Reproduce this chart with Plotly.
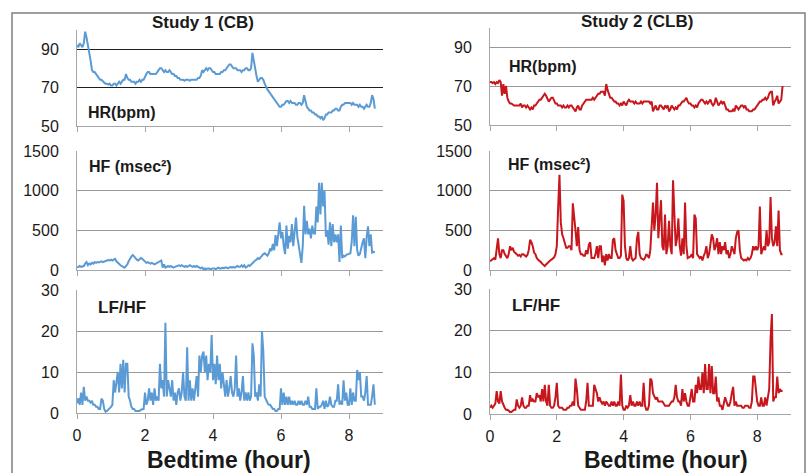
import plotly.graph_objects as go

W, H = 811, 473
STEP = 0.04  # hours between successive samples

hour_ticks = [0, 2, 4, 6, 8]
hr_ticks = [50, 70, 90]
hf_ticks = [0, 500, 1000, 1500]
lfhf_ticks = [0, 10, 20, 30]

# ---------------- Study 1 (CB) ----------------
study1_hr = [
    92, 91, 93, 92, 91, 93, 99, 96, 92, 90, 84, 79, 78, 78, 77, 76, 75, 74, 74, 73, 72.5, 72, 72, 71.5, 72,
    71, 71, 72, 72, 71, 72, 73, 72, 73, 74, 74, 77, 75, 74, 74, 73, 73, 73, 72, 73, 73, 74, 73, 74, 74,
    76, 77, 78, 78, 77, 77, 77, 77, 77, 78, 79, 80, 80, 79, 78, 79, 78, 78, 79, 78, 77, 77, 76, 76, 75,
    75, 74, 74, 74, 73.5, 74, 74, 74, 73.5, 74, 74, 74, 74, 74, 75, 75, 76, 79, 78, 79, 80, 79, 80, 80, 79,
    78, 78, 77, 77, 77, 77, 78, 78, 79, 79, 80, 81, 82, 82, 81, 80, 80, 80, 79, 79, 79, 78, 79, 79, 80,
    80, 79, 79, 80, 88, 84, 78, 76, 73, 74, 75, 75, 74, 72, 70, 69, 68, 67, 66, 65, 64, 63, 62, 61, 60,
    60, 61, 61, 62, 63, 63, 62, 63, 62, 62, 62, 61, 61, 62, 62, 61, 62, 66, 62, 60, 59, 58, 58, 57, 57,
    56, 56, 55, 55, 54, 55, 53, 54, 56, 56, 57, 57, 57, 58, 58, 59, 59, 58, 58, 60, 61, 61, 62, 62, 62,
    62, 62, 61, 62, 61, 61, 61, 60, 61, 60, 60, 59, 60, 61, 60, 60, 62, 66, 64, 59,
]
study1_hf = [
    30, 40, 50, 40, 45, 50, 80, 100, 60, 80, 70, 90, 80, 100, 90, 100, 95, 100, 110, 100, 110, 115, 120, 125, 120,
    130, 120, 130, 140, 110, 90, 80, 60, 50, 40, 30, 50, 70, 110, 150, 170, 190, 170, 140, 130, 120, 130, 150, 140, 120,
    100, 90, 100, 90, 80, 90, 80, 70, 80, 90, 100, 110, 120, 30, 70, 30, 40, 50, 40, 50, 40, 30, 40, 50, 60,
    60, 50, 60, 50, 40, 50, 40, 50, 60, 50, 40, 50, 40, 50, 40, 30, 20, 30, 10, 20, 10, 20, 20, 10, 20,
    20, 20, 10, 20, 30, 20, 20, 30, 20, 30, 30, 20, 30, 40, 30, 40, 30, 40, 50, 40, 40, 60, 40, 60, 30,
    40, 60, 50, 70, 90, 100, 120, 130, 150, 140, 160, 190, 200, 210, 200, 180, 210, 270, 240, 330, 250, 440, 300, 500, 600,
    400, 480, 300, 200, 560, 270, 430, 350, 580, 300, 480, 660, 420, 300, 200, 90, 300, 810, 450, 620, 450, 520, 400, 560, 460,
    460, 800, 600, 1100, 700, 1100, 800, 1000, 420, 500, 320, 600, 300, 580, 350, 450, 350, 450, 100, 560, 150, 180, 170, 190, 200,
    200, 210, 350, 690, 300, 670, 250, 180, 200, 300, 350, 400, 150, 420, 550, 300, 450, 220, 230, 220,
]
study1_lfhf = [
    2.4, 3.6, 2, 5, 2, 6.4, 3, 4, 3, 3, 2.5, 3, 2, 2, 1.5, 1.5, 1, 1, 3.5, 3, 1, 0.3, 0.5, 0.8, 1,
    1.5, 2, 8, 5, 7, 10, 5, 12, 6, 13, 5, 12, 12, 4, 3, 1.5, 1, 1, 0.5, 0.5, 0.5, 0.5, 0.8, 1, 1,
    5, 2, 3, 6, 3, 5, 2, 6, 3, 4, 3, 12, 6, 8, 4, 22, 4, 8, 6, 4, 8, 3, 5, 2, 5,
    6, 3, 5, 10, 4, 3, 16, 3, 8, 3, 6, 3, 7, 9, 4, 14, 10, 14, 15, 10, 14, 8, 12, 10, 19,
    8, 12, 7, 14, 8, 12, 6, 10, 6, 4, 8, 4, 6, 9, 5, 4, 6, 14, 4, 6, 3, 5, 9, 3, 5,
    3, 5, 3, 4, 17, 14, 4, 5, 3, 7, 4, 20, 15, 4, 3, 2.5, 2, 2, 1.5, 1, 1, 0.5, 0.5, 1, 1,
    6, 2, 5, 2, 4, 2, 4, 2, 3, 2, 3, 2, 2, 3, 2, 3, 2, 2, 3, 2, 4, 1.5, 1.5, 1, 1,
    1, 6, 1, 1.5, 1.5, 2, 3, 1, 3, 1.5, 2, 4, 2, 1.5, 1.5, 3, 3, 7, 2, 3, 2, 8, 3, 5, 2,
    2, 6, 2, 5, 3, 3, 10.5, 8, 10, 4, 4, 3, 5, 9, 2, 2, 2, 4, 7, 2,
]

# ---------------- Study 2 (CLB) ----------------
study2_hr = [
    72, 72, 71.5, 72, 71, 72, 71.5, 73, 72, 65, 71, 66, 70, 64, 62, 61, 61, 60.5, 60, 60, 60, 60, 60, 61, 59,
    60, 60, 59, 60, 59, 58, 59, 58, 60, 60, 61, 62, 63, 63, 64, 65, 66, 65, 63, 62, 63, 64, 64, 62, 61,
    61, 60, 60, 60, 59, 60, 59, 59, 60, 59, 60, 60, 59, 58, 57, 59, 60, 58, 58, 60, 61, 62, 63, 63, 63,
    63, 63, 64, 63, 64, 65, 66, 66, 67, 67, 67, 65, 71, 68, 66, 64, 64, 63, 62, 62, 61, 61, 60, 61, 60,
    62, 61, 60, 62, 63, 62, 62, 62, 61, 62, 61, 61, 61, 62, 61, 62, 62, 62, 62, 62, 61, 62, 57, 59, 60,
    58, 58, 60, 60, 59, 58, 60, 59, 60, 57, 58, 60, 59, 58, 59, 58, 60, 60, 61, 62, 62, 63, 64, 62, 61,
    61, 60, 60, 59, 60, 59, 61, 62, 63, 63, 62, 61, 62, 61, 62, 63, 61, 60, 61, 64, 62, 60, 61, 62, 61,
    62, 60, 58, 58, 57, 57, 57, 58, 57, 60, 59, 58, 59, 60, 60, 59, 60, 58, 58, 57, 57, 57, 58, 58, 59,
    60, 61, 62, 62, 63, 63, 64, 63, 64, 66, 67, 67, 60, 62, 63, 65, 61, 62, 63, 70,
]
study2_hf = [
    110, 120, 140, 150, 130, 280, 400, 200, 150, 250, 250, 200, 180, 150, 200, 300, 250, 280, 230, 220, 200, 180, 190, 170, 200,
    200, 180, 170, 190, 250, 380, 350, 300, 220, 200, 150, 130, 120, 100, 80, 60, 50, 70, 90, 100, 120, 130, 140, 160, 200,
    300, 780, 1200, 600, 450, 400, 330, 280, 280, 300, 300, 250, 840, 700, 500, 300, 540, 250, 200, 200, 180, 180, 250, 200, 320,
    350, 150, 150, 150, 200, 300, 150, 300, 300, 100, 180, 60, 200, 120, 200, 150, 150, 380, 400, 250, 200, 150, 150, 180, 950,
    870, 300, 150, 120, 150, 300, 150, 120, 140, 150, 400, 480, 200, 150, 140, 130, 150, 200, 180, 150, 250, 640, 850, 500, 700,
    1100, 400, 650, 880, 300, 250, 700, 200, 300, 620, 300, 200, 1130, 600, 300, 400, 650, 300, 180, 400, 200, 850, 300, 150, 160,
    170, 200, 150, 700, 650, 200, 180, 150, 170, 120, 180, 220, 300, 150, 200, 350, 450, 400, 250, 300, 400, 200, 350, 200, 300,
    250, 350, 200, 250, 150, 200, 300, 250, 200, 400, 480, 500, 250, 150, 130, 120, 130, 120, 150, 130, 150, 200, 300, 250, 300,
    250, 300, 800, 200, 250, 300, 250, 500, 300, 350, 920, 400, 300, 350, 550, 300, 750, 250, 200, 200,
]
study2_lfhf = [
    1.5, 2, 1.5, 2, 2.5, 5.5, 3, 2.5, 5.5, 3, 2, 1.5, 1, 1, 0.8, 0.5, 0.5, 0.8, 1, 1, 3.5, 2, 1.5, 2, 4,
    2, 1.5, 1.5, 2, 2, 4.5, 3, 3.5, 3, 3, 5, 4, 4.5, 3, 6, 3, 7, 3, 2, 7, 2, 1.5, 1.5, 2, 4,
    7.5, 2, 1.5, 1.5, 1.5, 1, 1, 1, 1.5, 1.5, 2, 2, 3, 2, 8.5, 6, 2, 1.5, 1, 1, 1, 1, 3, 7.5, 2,
    2, 2, 2, 7, 6, 5, 3, 4, 3, 2.5, 3, 2, 3, 2.5, 2, 2, 3, 2, 3, 2, 2, 3, 2, 9.5, 2,
    1, 1, 2, 1.5, 2, 4.5, 2, 3, 2, 2, 3, 2, 3, 2, 2, 7.5, 2, 1, 1, 2, 8.5, 8, 5, 4, 3.5,
    4, 3, 3, 3, 3, 2.5, 2, 2, 2, 2, 2.5, 3, 3, 4, 7, 4, 3, 3, 2, 6, 3, 5, 3, 2, 2,
    4, 6, 3, 3, 7, 5, 9, 6, 6, 10, 5, 12, 6, 6, 12, 5, 11.5, 5, 5, 9, 3, 4, 2, 2, 1,
    3, 4, 3, 2, 2, 3, 5, 6.5, 2, 3, 2, 2, 2, 2, 1.5, 1.5, 2, 2, 2, 1.5, 1.5, 3, 9, 9, 5,
    3, 2, 2, 4, 2, 2, 4, 2, 4, 6, 18, 24, 3, 4, 4, 9, 5, 6, 5.5, 5.5,
]

BLUE = "#5B9BD5"
RED = "#C8161D"
GRID = "#999999"
AXIS = "#A6A6A6"
TXT = "#1A1A1A"
FONT = "Liberation Sans, Arial, sans-serif"


def fx(p):
    return p / W


def fy(p):
    return 1 - p / H


fig = go.Figure()

# panel definitions: (axis suffix, y data, color, x-domain px, y-domain px, y-range, y-ticks, gridcolor, show x labels)
panels = [
    ("", study1_hr, BLUE, (77, 383), (29.75, 126), [50, 100], hr_ticks, "#202020", False),
    ("2", study1_hf, BLUE, (77, 383), (151, 270), [0, 1500], hf_ticks, GRID, False),
    ("3", study1_lfhf, BLUE, (77, 383), (290, 413), [0, 30], lfhf_ticks, GRID, True),
    ("4", study2_hr, RED, (490, 790.6), (27.5, 125), [50, 100], hr_ticks, GRID, False),
    ("5", study2_hf, RED, (490, 790.6), (151, 270), [0, 1500], hf_ticks, GRID, False),
    ("6", study2_lfhf, RED, (490, 790.6), (289, 414), [0, 30], lfhf_ticks, GRID, True),
]

layout_axes = {}
for suf, ydata, col, xd, yd, yr, yt, gc, showx in panels:
    fig.add_trace(go.Scatter(
        y=ydata, x0=0, dx=STEP, mode="lines",
        line=dict(color=col, width=2),
        xaxis="x" + suf, yaxis="y" + suf, showlegend=False, hoverinfo="skip",
    ))
    layout_axes["xaxis" + suf] = dict(
        domain=[fx(xd[0]), fx(xd[1])], range=[0, 9], anchor="y" + suf,
        tickvals=hour_ticks, showgrid=False, zeroline=False,
        showline=True, linecolor=AXIS, linewidth=1,
        ticks="outside", ticklen=5, tickcolor=AXIS,
        showticklabels=showx, ticklabelstandoff=3, automargin=False,
        tickfont=dict(family=FONT, size=16, color=TXT),
    )
    layout_axes["yaxis" + suf] = dict(
        domain=[fy(yd[1]), fy(yd[0])], range=yr, anchor="x" + suf,
        tickvals=yt, showgrid=True, gridcolor=gc, gridwidth=1,
        zeroline=False, showline=True, linecolor=AXIS, linewidth=1,
        ticks="", ticklabelstandoff=14, automargin=False,
        tickfont=dict(family=FONT, size=16, color=TXT),
    )

annotations = []


def label(text, x, y, size=17, xanchor="left"):
    annotations.append(dict(
        text=text, x=fx(x), y=fy(y), xref="paper", yref="paper",
        xanchor=xanchor, yanchor="middle", showarrow=False,
        font=dict(family=FONT, size=size, color=TXT),
    ))


label("<b>Study 1 (CB)</b>", 203, 23, 17, "center")
label("<b>Study 2 (CLB)</b>", 637, 22, 17, "center")
label("<b>HR(bpm)</b>", 86, 112, 16)
label("<b>HR(bpm)</b>", 507, 66, 16)
label("<b>HF (msec²)</b>", 87, 166, 16)
label("<b>HF (msec²)</b>", 506, 165, 16)
label("<b>LF/HF</b>", 96, 307, 17)
label("<b>LF/HF</b>", 510, 305, 17)
label("<b>Bedtime (hour)</b>", 229, 460, 23, "center")
label("<b>Bedtime (hour)</b>", 666, 460, 23, "center")

fig.update_layout(
    width=W, height=H,
    margin=dict(l=0, r=0, t=0, b=0, autoexpand=False),
    paper_bgcolor="white", plot_bgcolor="white",
    annotations=annotations,
    shapes=[dict(type="rect", xref="paper", yref="paper",
                 x0=fx(12), x1=fx(805), y0=fy(490), y1=fy(13),
                 line=dict(color="#7F7F7F", width=1.5), layer="below")],
    **layout_axes,
)

fig.write_html(
    "out.html",
    config={"displayModeBar": False},
    post_script="document.body.style.margin='0';document.body.style.overflow='hidden';",
)
